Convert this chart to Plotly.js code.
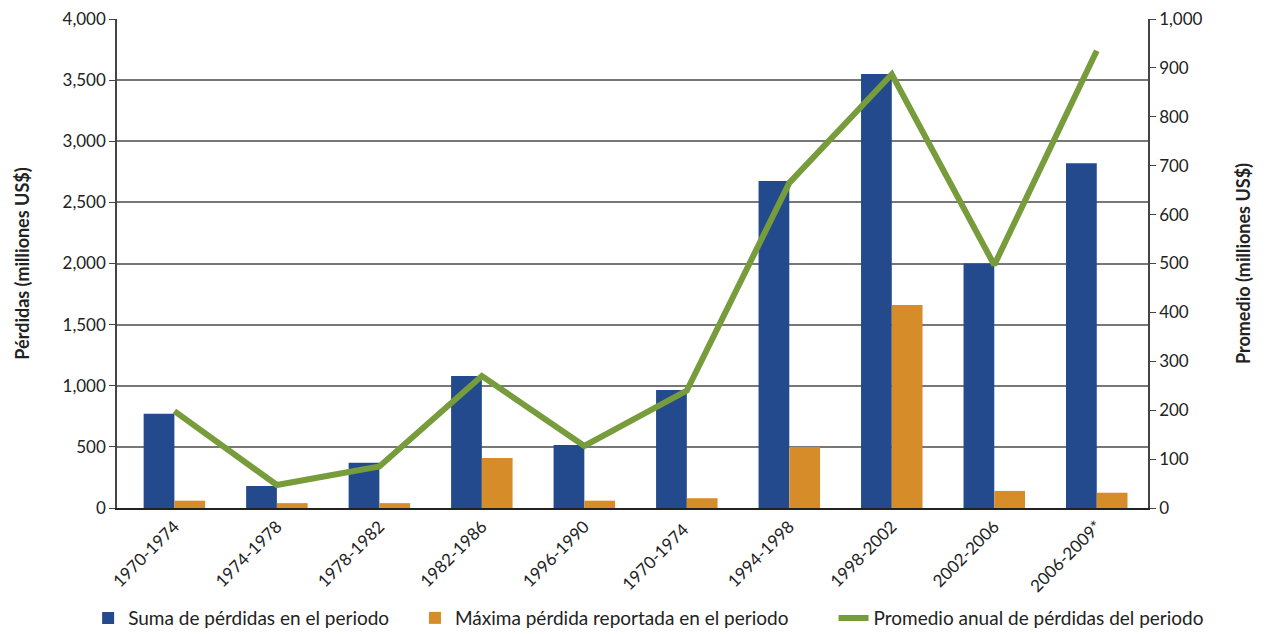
<!DOCTYPE html>
<html><head><meta charset="utf-8">
<script src="https://cdn.plot.ly/plotly-3.0.1.min.js"></script>
<style>body{margin:0}#c{width:1267px;height:634px}</style>
</head><body><div id="c"></div>
<script>
const categories = ["1970-1974","1974-1978","1978-1982","1982-1986","1996-1990","1970-1974 ","1994-1998","1998-2002","2002-2006","2006-2009*"];
const sumaPerdidas = [770, 180, 370, 1080, 515, 965, 2675, 3550, 2000, 2820];
const maximaPerdida = [60, 40, 40, 410, 60, 80, 500, 1660, 140, 125];
const promedioAnual = [198, 47, 85, 270, 127, 240, 665, 887, 497, 935];

const font = "Lato, 'Open Sans', sans-serif";
const traces = [
  {type:'bar', x:categories, y:sumaPerdidas, name:'Suma de pérdidas en el periodo', marker:{color:'#224A8C'}, legend:'legend'},
  {type:'bar', x:categories, y:maximaPerdida, name:'Máxima pérdida reportada en el periodo', marker:{color:'#D78C2A'}, legend:'legend2'},
  {type:'scatter', mode:'lines', x:categories, y:promedioAnual, yaxis:'y2', name:'Promedio anual de pérdidas del periodo', line:{color:'#779C3C', width:6}, legend:'legend3'}
];
const leg = (x) => ({orientation:'h', x:x, xanchor:'left', y:-0.225, yanchor:'middle', font:{size:19, color:'#222'}, itemwidth:30, bgcolor:'rgba(0,0,0,0)'});
const layout = {
  width:1267, height:634,
  margin:{l:117, r:119, t:19, b:126, autoexpand:false},
  barmode:'group', bargap:0.4, bargroupgap:0,
  paper_bgcolor:'#fff', plot_bgcolor:'#fff',
  font:{family:font, size:17, color:'#222'},
  showlegend:true,
  legend:leg(-0.028), legend2:leg(0.289), legend3:leg(0.695),
  xaxis:{type:'category', range:[-0.56, 9.5], tickangle:-45, automargin:false, showline:true, linecolor:'#222', linewidth:2, ticks:'', showgrid:false, tickfont:{size:17}},
  yaxis:{range:[0,4000], dtick:500, tickformat:',d', automargin:false, showgrid:true, gridcolor:'#777', gridwidth:1.5, showline:true, linecolor:'#444', linewidth:1.5, ticks:'outside', ticklen:6, tickcolor:'#444', zeroline:false,
    title:{text:'<b>Pérdidas (milliones US$)</b>', font:{size:18}, standoff:28}},
  yaxis2:{range:[0,1000], dtick:100, tickformat:',d', automargin:false, overlaying:'y', side:'right', showgrid:false, showline:true, linecolor:'#444', linewidth:1.5, ticks:'outside', ticklen:6, tickcolor:'#444', zeroline:false,
    title:{text:'<b>Promedio (milliones US$)</b>', font:{size:18}, standoff:36}}
};
Plotly.newPlot('c', traces, layout, {displayModeBar:false});
</script></body></html>
